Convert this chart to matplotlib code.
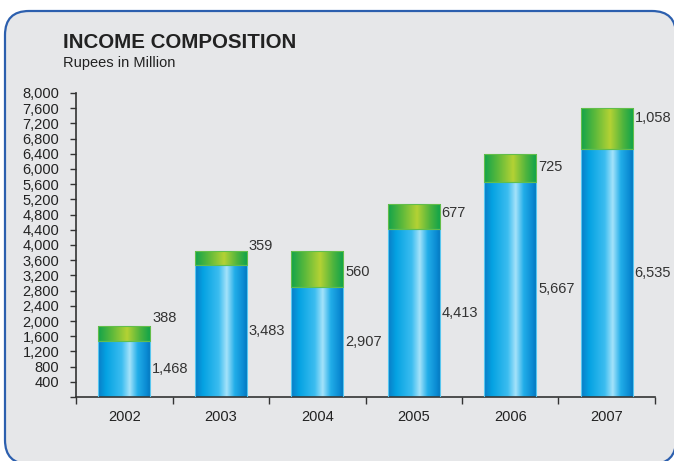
import numpy as np
import matplotlib
matplotlib.use("Agg")
import matplotlib.pyplot as plt
from matplotlib.colors import LinearSegmentedColormap
from matplotlib.patches import FancyBboxPatch
from matplotlib.transforms import IdentityTransform
from matplotlib.ticker import FuncFormatter

plt.rcParams['font.family'] = ['Liberation Sans', 'DejaVu Sans']

# data
years = ["2002", "2003", "2004", "2005", "2006", "2007"]
base_income = [1468, 3483, 2907, 4413, 5667, 6535]
other_income = [388, 359, 560, 677, 725, 1058]
# green segment heights as drawn in the source picture (2004 is drawn taller than its label)
other_drawn = [388, 359, 935, 677, 725, 1058]
# where the small numbers sit (data units)
other_label_y = [2080, 3970, 3290, 4840, 6050, 7340]
y_ticks = list(range(0, 8001, 400))

blue_cmap = LinearSegmentedColormap.from_list("blue", [
    (0.0, "#0a7cc6"), (0.15, "#04a2e2"), (0.45, "#3cbdf0"),
    (0.6, "#a4e2fa"), (0.75, "#22aee9"), (0.92, "#0a8ad2"), (1.0, "#0474bd")])
green_cmap = LinearSegmentedColormap.from_list("green", [
    (0.0, "#12a34a"), (0.25, "#58b83c"), (0.55, "#b4d234"),
    (0.8, "#4db43e"), (1.0, "#0ca24a")])

fig = plt.figure(figsize=(6.74, 4.61), dpi=100, facecolor="white")

# rounded panel behind everything
panel = FancyBboxPatch((5, -3), 671, 453, boxstyle="round,pad=0,rounding_size=24",
                       transform=IdentityTransform(), facecolor="#e6e7e9",
                       edgecolor="#2c5fae", linewidth=1.6, zorder=-5)
fig.patches.append(panel)

ax = fig.add_axes([0.1128, 0.1388, 0.9718 - 0.1128, 0.7983 - 0.1388])
ax.set_facecolor("none")

x = np.arange(len(years))
width = 0.54
bars_base = ax.bar(x, base_income, width, color="none", edgecolor="#56c6f0", linewidth=0.8, zorder=3)
bars_other = ax.bar(x, other_drawn, width, bottom=base_income, color="none",
                    edgecolor="#62be4a", linewidth=0.8, zorder=3)

grad = np.linspace(0, 1, 256).reshape(1, -1)
for bars, cmap in ((bars_base, blue_cmap), (bars_other, green_cmap)):
    for r in bars:
        x0, y0 = r.get_x(), r.get_y()
        im = ax.imshow(grad, cmap=cmap, aspect="auto", zorder=2,
                       extent=[x0, x0 + r.get_width(), y0, y0 + r.get_height()])
        im.set_clip_path(r)

for i in range(len(years)):
    right = x[i] + width / 2 + 0.02
    ax.text(right, base_income[i] / 2, f"{base_income[i]:,}", fontsize=10.5,
            color="#333333", ha="left", va="center")
    ax.text(right, other_label_y[i], f"{other_income[i]:,}", fontsize=10.5,
            color="#333333", ha="left", va="center")

ax.set_xlim(-0.5, len(years) - 0.5)
ax.set_ylim(0, 8000)
ax.set_yticks(y_ticks)
ax.yaxis.set_major_formatter(FuncFormatter(lambda v, p: "" if v == 0 else f"{int(v):,}"))
ax.set_xticks(np.arange(len(years) + 1) - 0.5)
ax.set_xticklabels([])
ax.set_xticks(x, minor=True)
ax.set_xticklabels(years, minor=True)

ax.tick_params(axis="y", direction="out", length=4, width=1, labelsize=10.5,
               labelcolor="#222222", color="#333333", pad=8)
ax.tick_params(axis="x", which="major", direction="out", length=5, width=1, color="#333333")
ax.tick_params(axis="x", which="minor", length=0, labelsize=10.5, labelcolor="#222222", pad=9)

for s in ("top", "right"):
    ax.spines[s].set_visible(False)
for s in ("left", "bottom"):
    ax.spines[s].set_color("#333333")
    ax.spines[s].set_linewidth(1.2)

fig.text(63 / 674, 1 - 42 / 461, "INCOME COMPOSITION", fontsize=14.8, fontweight="bold",
         color="#222222", ha="left", va="center")
fig.text(63 / 674, 1 - 63 / 461, "Rupees in Million", fontsize=10.5,
         color="#222222", ha="left", va="center")

fig.savefig("out.png", dpi=100)
